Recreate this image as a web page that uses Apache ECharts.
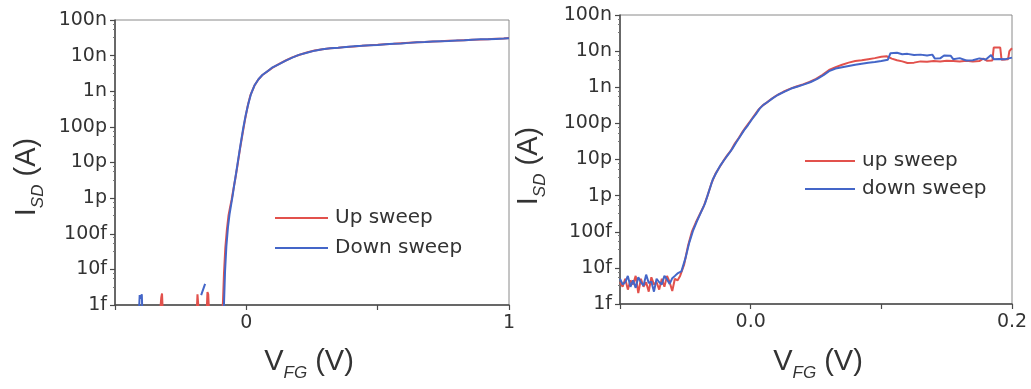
<!DOCTYPE html>
<html>
<head>
<meta charset="utf-8">
<title>Transfer characteristics</title>
<script src="https://cdn.jsdelivr.net/npm/echarts@6/dist/echarts.min.js"></script>
<style>
  html, body { margin: 0; padding: 0; background: #fff; }
  #chart { width: 1031px; height: 389px; }
</style>
</head>
<body>
<div id="chart"></div>
<script>
// ---- Left panel: full sweep (V_FG from -0.5 V to 1 V) ----
const vUpL = [-0.5, -0.33, -0.324, -0.321, -0.317, -0.19, -0.186, -0.183, -0.179, -0.152, -0.148, -0.145, -0.141,
  -0.093, -0.089, -0.085, -0.08, -0.074, -0.068, -0.062, -0.056, -0.049, -0.042, -0.034, -0.025, -0.015, -0.005,
  0.005, 0.015, 0.03, 0.045, 0.06, 0.08, 0.1, 0.125, 0.15, 0.175, 0.2, 0.23, 0.26, 0.29, 0.32, 0.35, 0.38, 0.41,
  0.44, 0.47, 0.5, 0.53, 0.56, 0.59, 0.62, 0.65, 0.68, 0.71, 0.74, 0.77, 0.8, 0.83, 0.86, 0.89, 0.92, 0.95, 0.98, 1.0];
const iUpL = [4e-16, 4e-16, 1.6e-15, 2.1e-15, 4e-16, 4e-16, 2.0e-15, 1.8e-15, 4e-16, 4e-16, 2.3e-15, 2.0e-15, 4e-16,
  4e-16, 1.2e-15, 8e-15, 4e-14, 1.3e-13, 3.2e-13, 5.5e-13, 9e-13, 1.8e-12, 3.5e-12, 8e-12, 2.2e-11, 6e-11, 1.6e-10,
  3.8e-10, 7.5e-10, 1.4e-9, 2.1e-9, 2.8e-9, 3.6e-9, 4.6e-9, 5.9e-9, 7.3e-9, 8.9e-9, 1.04e-8, 1.22e-8, 1.4e-8, 1.52e-8,
  1.6e-8, 1.67e-8, 1.76e-8, 1.8e-8, 1.9e-8, 1.95e-8, 2.02e-8, 2.1e-8, 2.14e-8, 2.22e-8, 2.3e-8, 2.36e-8, 2.42e-8,
  2.5e-8, 2.52e-8, 2.6e-8, 2.64e-8, 2.72e-8, 2.8e-8, 2.84e-8, 2.9e-8, 2.97e-8, 3.04e-8, 3.1e-8];

const vDownL = [-0.5, -0.41, -0.406, -0.402, -0.398, -0.395, -0.392, -0.174, -0.172, -0.157, -0.155,
  -0.09, -0.085, -0.081, -0.076, -0.07, -0.064, -0.058, -0.052, -0.046, -0.039, -0.031, -0.022, -0.012, -0.002,
  0.008, 0.018, 0.032, 0.047, 0.062, 0.08, 0.1, 0.125, 0.15, 0.175, 0.2, 0.23, 0.26, 0.29, 0.32, 0.35, 0.38, 0.41,
  0.44, 0.47, 0.5, 0.53, 0.56, 0.59, 0.62, 0.65, 0.68, 0.71, 0.74, 0.77, 0.8, 0.83, 0.86, 0.89, 0.92, 0.95, 0.98, 1.0];
const iDownL = [4e-16, 4e-16, 1.9e-15, 1.5e-15, 2.0e-15, 4e-16, 4e-16, null, 1.9e-15, 3.9e-15, null,
  4e-16, 1.1e-15, 9e-15, 4.5e-14, 1.5e-13, 3.5e-13, 6.5e-13, 1.2e-12, 2.4e-12, 5e-12, 1.2e-11, 3.2e-11, 9e-11, 2.2e-10,
  4.6e-10, 8.5e-10, 1.5e-9, 2.2e-9, 2.9e-9, 3.6e-9, 4.7e-9, 5.8e-9, 7.2e-9, 8.8e-9, 1.05e-8, 1.2e-8, 1.38e-8, 1.5e-8,
  1.62e-8, 1.66e-8, 1.75e-8, 1.82e-8, 1.88e-8, 1.97e-8, 2.0e-8, 2.08e-8, 2.16e-8, 2.2e-8, 2.28e-8, 2.38e-8, 2.4e-8,
  2.48e-8, 2.55e-8, 2.58e-8, 2.66e-8, 2.7e-8, 2.78e-8, 2.86e-8, 2.88e-8, 2.95e-8, 3.02e-8, 3.08e-8];

// ---- Right panel: zoom on the turn-on (V_FG from -0.1 V to 0.2 V) ----
const vUpR = [-0.1, -0.098, -0.096, -0.094, -0.092, -0.09, -0.088, -0.086, -0.084, -0.082, -0.08, -0.078, -0.076,
  -0.074, -0.072, -0.07, -0.068, -0.066, -0.064, -0.062, -0.06, -0.058, -0.056,
  -0.054, -0.051, -0.048, -0.045, -0.042, -0.039, -0.036, -0.033, -0.03, -0.027, -0.024, -0.021, -0.018, -0.015,
  -0.012, -0.009, -0.006, -0.003, 0.0, 0.003, 0.006, 0.009, 0.012, 0.016, 0.02, 0.025, 0.03, 0.035, 0.04, 0.045,
  0.05, 0.055, 0.06, 0.065, 0.07, 0.075, 0.08, 0.085, 0.09, 0.095, 0.1, 0.104, 0.108, 0.112, 0.116, 0.12, 0.125,
  0.13, 0.135, 0.14, 0.145, 0.15, 0.155, 0.16, 0.165, 0.17, 0.175, 0.178, 0.181, 0.185, 0.186, 0.191, 0.192, 0.197,
  0.198, 0.2];
const iUpR = [4e-15, 3e-15, 5e-15, 2.5e-15, 4.5e-15, 3.5e-15, 6e-15, 2e-15, 5e-15, 3e-15, 4e-15, 2.2e-15, 5.5e-15,
  3.5e-15, 4e-15, 2.5e-15, 5e-15, 3e-15, 6e-15, 4e-15, 2.3e-15, 5e-15, 4.5e-15,
  6e-15, 1.2e-14, 4e-14, 1e-13, 1.8e-13, 3e-13, 5e-13, 1e-12, 2.2e-12, 4e-12, 6e-12, 9e-12, 1.3e-11, 1.8e-11,
  2.8e-11, 4e-11, 6e-11, 8.5e-11, 1.2e-10, 1.7e-10, 2.4e-10, 3.1e-10, 3.7e-10, 4.8e-10, 6e-10, 7.5e-10, 9e-10,
  1.05e-9, 1.2e-9, 1.4e-9, 1.7e-9, 2.2e-9, 3e-9, 3.6e-9, 4.2e-9, 4.8e-9, 5.3e-9, 5.6e-9, 6e-9, 6.4e-9, 7e-9, 7.2e-9,
  6.2e-9, 5.6e-9, 5.2e-9, 4.7e-9, 4.8e-9, 5.2e-9, 5.1e-9, 5.3e-9, 5.2e-9, 5.4e-9, 5.3e-9, 5.2e-9, 5.4e-9, 5.2e-9,
  5.3e-9, 6.2e-9, 5.4e-9, 5.5e-9, 1.25e-8, 1.25e-8, 5.8e-9, 6e-9, 1e-8, 1.2e-8];

const vDownR = [-0.1, -0.098, -0.096, -0.094, -0.092, -0.09, -0.088, -0.086, -0.084, -0.082, -0.08, -0.078, -0.076,
  -0.074, -0.072, -0.07, -0.068, -0.066, -0.064, -0.062, -0.06, -0.058, -0.056,
  -0.053, -0.05, -0.047, -0.044, -0.041, -0.038, -0.035, -0.032, -0.029, -0.026, -0.023, -0.02, -0.017, -0.014,
  -0.011, -0.008, -0.005, -0.002, 0.001, 0.004, 0.007, 0.01, 0.013, 0.017, 0.021, 0.026, 0.031, 0.036, 0.041, 0.046,
  0.051, 0.056, 0.06, 0.065, 0.07, 0.075, 0.08, 0.085, 0.09, 0.095, 0.1, 0.105, 0.107, 0.112, 0.116, 0.12, 0.125,
  0.13, 0.135, 0.139, 0.141, 0.145, 0.148, 0.153, 0.155, 0.16, 0.165, 0.17, 0.175, 0.18, 0.184, 0.186, 0.19, 0.195,
  0.2];
const iDownR = [5e-15, 3.5e-15, 4e-15, 6e-15, 3e-15, 4.5e-15, 2.8e-15, 5.5e-15, 4e-15, 3.2e-15, 6.5e-15, 3.8e-15,
  4.2e-15, 2.2e-15, 5e-15, 4e-15, 3.5e-15, 6e-15, 4.8e-15, 3.6e-15, 5.2e-15, 6e-15, 7e-15,
  8e-15, 1.8e-14, 5e-14, 1.1e-13, 2e-13, 3.5e-13, 6e-13, 1.3e-12, 2.8e-12, 4.5e-12, 7e-12, 1e-11, 1.4e-11, 2e-11,
  3e-11, 4.4e-11, 6.5e-11, 9e-11, 1.3e-10, 1.8e-10, 2.6e-10, 3.3e-10, 3.9e-10, 5e-10, 6.2e-10, 7.6e-10, 9.2e-10,
  1.05e-9, 1.2e-9, 1.4e-9, 1.7e-9, 2.2e-9, 2.8e-9, 3.3e-9, 3.6e-9, 3.9e-9, 4.2e-9, 4.5e-9, 4.8e-9, 5e-9, 5.3e-9,
  5.8e-9, 8.8e-9, 9e-9, 8.2e-9, 8.4e-9, 7.8e-9, 8e-9, 7.6e-9, 8e-9, 6.2e-9, 6.3e-9, 7.6e-9, 7.5e-9, 6e-9, 6.4e-9,
  5.5e-9, 5.6e-9, 6.3e-9, 5.9e-9, 7.8e-9, 6e-9, 6.1e-9, 6e-9, 6.6e-9];

// Decade tick labels for the current axes, from 1 fA to 100 nA
const yTickLabels = ['1f', '10f', '100f', '1p', '10p', '100p', '1n', '10n', '100n'];
// Labelled x ticks
const xLabelsLeft = [[0, '0'], [1, '1']];
const xLabelsRight = [[0, '0.0'], [0.2, '0.2']];

const legendLeft = ['Up sweep', 'Down sweep'];
const legendRight = ['up sweep', 'down sweep'];

const RED = '#e2514c';
const BLUE = '#4466c8';
const AXIS = '#4a4a4a';
const TEXT = '#333';
const TICK_FONT = 'DejaVu Sans';
const TITLE_FONT = 'Liberation Sans';

function pairs(xs, ys) {
  return xs.map((x, i) => [x, ys[i]]);
}

function yLabel(v) {
  const k = Math.round(Math.log10(v) + 15);
  return yTickLabels[k] !== undefined ? yTickLabels[k] : '';
}

function xLabeler(list) {
  return function (v) {
    for (const [x, s] of list) {
      if (Math.abs(v - x) < 1e-9) return s;
    }
    return '';
  };
}

function makeXAxis(gridIndex, min, max, interval, list) {
  return {
    type: 'value', gridIndex, min, max, interval,
    axisLine: { show: true, onZero: false, lineStyle: { color: AXIS, width: 1.5 } },
    axisTick: { show: true, inside: false, length: 5, lineStyle: { color: AXIS, width: 1.2 } },
    axisLabel: { formatter: xLabeler(list), color: TEXT, fontFamily: TICK_FONT, fontSize: 19, margin: 9,
      showMinLabel: true, showMaxLabel: true },
    splitLine: { show: false }
  };
}

function makeYAxis(gridIndex) {
  return {
    type: 'log', logBase: 10, gridIndex, min: 1e-15, max: 1e-7, splitNumber: 8,
    axisLine: { show: true, onZero: false, lineStyle: { color: AXIS, width: 1.5 } },
    axisTick: { show: true, inside: false, length: 5, lineStyle: { color: AXIS, width: 1.2 } },
    minorTick: { show: true, splitNumber: 4, length: 2, lineStyle: { color: '#777', width: 1 } },
    axisLabel: { formatter: yLabel, color: TEXT, fontFamily: TICK_FONT, fontSize: 19, margin: 8,
      showMinLabel: true, showMaxLabel: true },
    splitLine: { show: false },
    minorSplitLine: { show: false }
  };
}

function lineSeries(name, data, color, xi, yi, z) {
  return {
    name, type: 'line', xAxisIndex: xi, yAxisIndex: yi, data,
    showSymbol: false, symbol: 'none', smooth: false, connectNulls: false,
    lineStyle: { color, width: 2 }, itemStyle: { color }, z,
    animation: false
  };
}

function legendBox(names, left, top, width, gap) {
  return {
    data: names, orient: 'vertical', left, top, padding: 0,
    icon: 'rect', itemWidth: width, itemHeight: 2, itemGap: gap,
    textStyle: { color: TEXT, fontFamily: TICK_FONT, fontSize: 20, lineHeight: 20, padding: [0, 0, 0, 2] },
    selectedMode: false
  };
}

function titleText(x, y, rot, main, sub, unit) {
  return {
    type: 'text', x, y, rotation: rot, silent: true,
    style: {
      text: '{m|' + main + '}{s|' + sub + '}{m| ' + unit + '}',
      align: 'center', verticalAlign: 'middle',
      rich: {
        m: { fontSize: 29, fontFamily: TITLE_FONT, fill: TEXT },
        s: { fontSize: 17, fontFamily: TITLE_FONT, fontStyle: 'italic', fill: TEXT, padding: [22, 0, 0, 0] }
      }
    }
  };
}

const chart = echarts.init(document.getElementById('chart'), null, { renderer: 'canvas' });

chart.setOption({
  backgroundColor: '#fff',
  animation: false,
  grid: [
    { left: 115, right: 522, top: 20, bottom: 84, show: true, borderColor: '#8a8a8a', borderWidth: 1,
      backgroundColor: 'transparent', outerBoundsMode: 'none' },
    { left: 620, right: 19, top: 15, bottom: 85, show: true, borderColor: '#8a8a8a', borderWidth: 1,
      backgroundColor: 'transparent', outerBoundsMode: 'none' }
  ],
  xAxis: [
    makeXAxis(0, -0.5, 1, 0.5, xLabelsLeft),
    makeXAxis(1, -0.1, 0.2, 0.1, xLabelsRight)
  ],
  yAxis: [makeYAxis(0), makeYAxis(1)],
  legend: [
    legendBox(legendLeft, 275, 208, 53, 10),
    legendBox(legendRight, 805, 151, 50, 8)
  ],
  series: [
    lineSeries(legendLeft[0], pairs(vUpL, iUpL), RED, 0, 0, 2),
    lineSeries(legendLeft[1], pairs(vDownL, iDownL), BLUE, 0, 0, 3),
    lineSeries(legendRight[0], pairs(vUpR, iUpR), RED, 1, 1, 2),
    lineSeries(legendRight[1], pairs(vDownR, iDownR), BLUE, 1, 1, 3)
  ],
  graphic: [
    titleText(27, 177, Math.PI / 2, 'I', 'SD', '(A)'),
    titleText(529, 166, Math.PI / 2, 'I', 'SD', '(A)'),
    titleText(309, 362, 0, 'V', 'FG', '(V)'),
    titleText(818, 362, 0, 'V', 'FG', '(V)')
  ]
});
</script>
</body>
</html>
